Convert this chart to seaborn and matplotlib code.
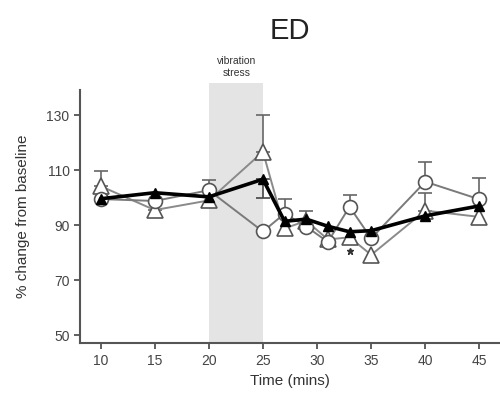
import numpy as np
import matplotlib
matplotlib.use('Agg')
import matplotlib.pyplot as plt
import seaborn as sns
from matplotlib.patches import Rectangle

# data
time = [10, 15, 20, 25, 27, 29, 31, 33, 35, 40, 45]
circle_vals = [99.5, 98.8, 102.7, 87.7, 94.2, 89.5, 83.9, 96.7, 85.2, 105.8, 99.4]
circle_err = [0, 0, 3.7, 0, 5.5, 5.6, 0, 4.2, 0, 7.2, 7.7]
tri_open_vals = [104.2, 95.5, 99.0, 116.7, 88.8, 91.6, 84.8, 85.6, 79.2, 95.3, 93.0]
tri_open_err = [5.4, -2.5, 0, 13.3, 0, 0, 0, 0, 0, 6.5, 0]
tri_fill_vals = [99.6, 101.8, 100.3, 106.7, 91.4, 92.2, 89.6, 87.6, 88.0, 93.4, 97.0]
tri_fill_err = [0, 0, 0, -6.9, 0, 0, 0, 0, 0, 0, 0]
star_time = [33]
star_vals = [80.5]


def one_sided(ax, x, y, err, color, z):
    # draw a single-sided error bar (positive = up, negative = down)
    for xi, yi, ei in zip(x, y, err):
        if ei == 0:
            continue
        lo = [0] if ei > 0 else [-ei]
        hi = [ei] if ei > 0 else [0]
        ax.errorbar([xi], [yi], yerr=[lo, hi], fmt='none', ecolor=color,
                    elinewidth=1.2, capsize=5, capthick=1.2, zorder=z)


sns.set_style('ticks')
plt.rcParams['font.family'] = ['Liberation Sans', 'DejaVu Sans']

fig = plt.figure(figsize=(5.0, 4.08), dpi=100)
ax = fig.add_axes([0.16, 0.159, 0.84, 0.62])

ymin, ymax = 47.1, 139.1

# vibration stress window
ax.add_patch(Rectangle((20, ymin), 5, 141.6 - ymin, facecolor='#e4e4e4',
                       edgecolor='none', clip_on=False, zorder=0))
ax.text(22.6, 147.5, 'vibration\nstress', ha='center', va='center', fontsize=7.5,
        color='#333333', linespacing=1.15)

# open triangles (grey line)
one_sided(ax, time, tri_open_vals, tri_open_err, '#666666', 2)
ax.plot(time, tri_open_vals, color='#8a8a8a', lw=1.4, marker='^', ms=11,
        mfc='white', mec='#555555', mew=1.2, zorder=3)
# open circles (grey line)
one_sided(ax, time, circle_vals, circle_err, '#666666', 2)
ax.plot(time, circle_vals, color='#7a7a7a', lw=1.4, marker='o', ms=10,
        mfc='white', mec='#555555', mew=1.2, zorder=4)
# filled triangles (thick black line)
one_sided(ax, time, tri_fill_vals, tri_fill_err, '#444444', 2)
ax.plot(time, tri_fill_vals, color='black', lw=2.6, marker='^', ms=6.5,
        mfc='black', mec='black', zorder=5)

ax.plot(star_time, star_vals, marker='*', ls='none', ms=5, color='#333333')

ax.set_xlim(8.1, 46.9)
ax.set_ylim(ymin, ymax)
ax.set_xticks([10, 15, 20, 25, 30, 35, 40, 45])
ax.set_yticks([50, 70, 90, 110, 130])
ax.tick_params(labelsize=10, colors='#444444', length=4, width=1.2)
for s in ['left', 'bottom']:
    ax.spines[s].set_color('#555555')
    ax.spines[s].set_linewidth(1.5)
sns.despine(ax=ax)

ax.set_xlabel('Time (mins)', fontsize=11, color='#333333', labelpad=5)
ax.set_ylabel('% change from baseline', fontsize=11, color='#333333', labelpad=12)
fig.text(0.58, 0.925, 'ED', ha='center', va='center', fontsize=21, color='#222222')

fig.savefig('out.png', dpi=100)
